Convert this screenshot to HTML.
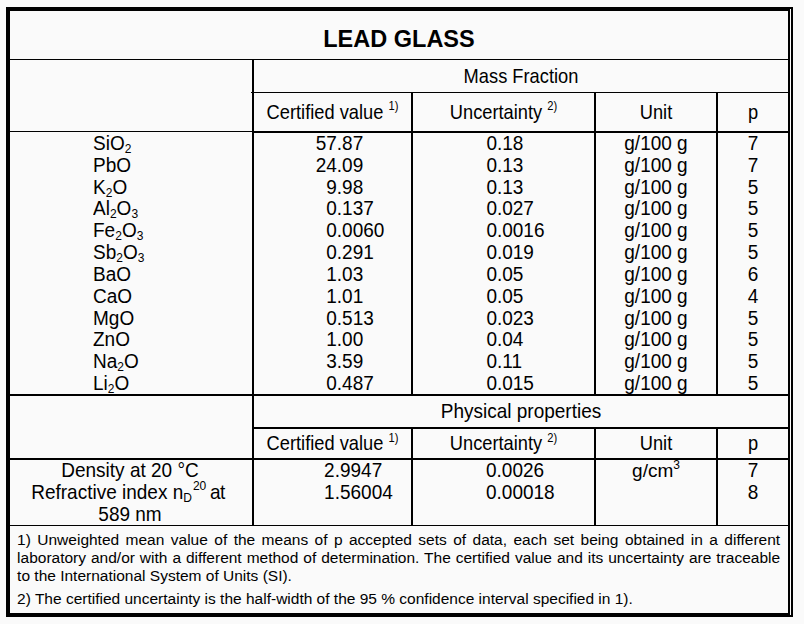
<!DOCTYPE html>
<html><head><meta charset="utf-8"><style>
html,body{margin:0;padding:0;}
body{width:804px;height:624px;background:#fafafa;position:relative;overflow:hidden;font-family:"Liberation Sans",sans-serif;color:#000;}
.l{position:absolute;background:#000;}
.t{position:absolute;white-space:nowrap;font-size:19px;line-height:22px;}
.c{text-align:center;}
sub,sup{font-size:12px;line-height:0;}
sub{vertical-align:-3px;}
sup{vertical-align:8.8px;}
.h sup{font-size:11.6px;}
.g sup{vertical-align:8.1px;}
.h{transform:scale(0.962,1.025);transform-origin:50% 79%;}
.i{display:inline-block;text-align:right;width:100px;}
.n>div{transform:scaleY(1.045);transform-origin:50% 79%;}
#c0>div{transform:scaleY(1.02);}
.rows div{height:21.82px;line-height:21.82px;}
.fn{position:absolute;left:17.1px;width:763px;font-size:15.5px;line-height:18px;text-align:justify;}
</style></head><body>
<!-- outer border -->
<div class="l" style="left:6px;top:7px;width:787px;height:4px"></div>
<div class="l" style="left:6px;top:613px;width:787px;height:4px"></div>
<div class="l" style="left:6px;top:7px;width:4px;height:610px"></div>
<div class="l" style="left:788px;top:7px;width:2px;height:610px"></div>
<div class="l" style="left:791px;top:7px;width:2px;height:610px"></div>
<div class="l" style="left:790px;top:9px;width:1px;height:606px;background:#fdfdfd"></div>
<!-- horizontal -->
<div class="l" style="left:10px;top:59px;width:778px;height:1px"></div>
<div class="l" style="left:251px;top:92px;width:537px;height:1px"></div>
<div class="l" style="left:10px;top:131px;width:778px;height:1px"></div>
<div class="l" style="left:252px;top:131px;width:536px;height:2px"></div>
<div class="l" style="left:10px;top:394px;width:778px;height:2px"></div>
<div class="l" style="left:252px;top:427px;width:536px;height:2px"></div>
<div class="l" style="left:10px;top:458px;width:778px;height:2px"></div>
<div class="l" style="left:10px;top:525px;width:778px;height:1px"></div>
<!-- vertical -->
<div class="l" style="left:252px;top:59px;width:2px;height:467px"></div>
<div class="l" style="left:411px;top:92px;width:2px;height:303px"></div>
<div class="l" style="left:594px;top:92px;width:2px;height:303px"></div>
<div class="l" style="left:716px;top:92px;width:2px;height:303px"></div>
<div class="l" style="left:411px;top:427px;width:2px;height:99px"></div>
<div class="l" style="left:594px;top:427px;width:2px;height:99px"></div>
<div class="l" style="left:716px;top:427px;width:2px;height:99px"></div>

<div class="t c" id="title" style="left:10px;width:778px;top:25px;font-size:23.5px;font-weight:bold;line-height:28px;transform:scaleY(1.045);transform-origin:50% 77.7%;">LEAD GLASS</div>
<div class="t c h" id="mf" style="left:254px;width:534px;top:66px;">Mass Fraction</div>
<div class="t c h" id="h1" style="left:254px;width:157px;top:102px;">Certified value <sup>1)</sup></div>
<div class="t c h" id="h2" style="left:413px;width:181px;top:102px;">Uncertainty <sup>2)</sup></div>
<div class="t c h" id="h3" style="left:596px;width:120px;top:102px;">Unit</div>
<div class="t c h" id="h4" style="left:718px;width:70px;top:102px;">p</div>

<div class="t rows n" id="c0" style="left:93px;top:133px;">
<div>SiO<sub>2</sub></div><div>PbO</div><div>K<sub>2</sub>O</div><div>Al<sub>2</sub>O<sub>3</sub></div><div>Fe<sub>2</sub>O<sub>3</sub></div><div>Sb<sub>2</sub>O<sub>3</sub></div><div>BaO</div><div>CaO</div><div>MgO</div><div>ZnO</div><div>Na<sub>2</sub>O</div><div>Li<sub>2</sub>O</div>
</div>
<div class="t rows n" id="c1" style="left:236.8px;top:133px;">
<div><span class="i">57</span>.87</div><div><span class="i">24</span>.09</div><div><span class="i">9</span>.98</div><div><span class="i">0</span>.137</div><div><span class="i">0</span>.0060</div><div><span class="i">0</span>.291</div><div><span class="i">1</span>.03</div><div><span class="i">1</span>.01</div><div><span class="i">0</span>.513</div><div><span class="i">1</span>.00</div><div><span class="i">3</span>.59</div><div><span class="i">0</span>.487</div>
</div>
<div class="t rows n" id="c2" style="left:486.4px;top:133px;">
<div>0.18</div><div>0.13</div><div>0.13</div><div>0.027</div><div>0.0016</div><div>0.019</div><div>0.05</div><div>0.05</div><div>0.023</div><div>0.04</div><div>0.11</div><div>0.015</div>
</div>
<div class="t c rows n" id="c3" style="left:596px;width:120px;top:133px;">
<div>g/100 g</div><div>g/100 g</div><div>g/100 g</div><div>g/100 g</div><div>g/100 g</div><div>g/100 g</div><div>g/100 g</div><div>g/100 g</div><div>g/100 g</div><div>g/100 g</div><div>g/100 g</div><div>g/100 g</div>
</div>
<div class="t c rows n" id="c4" style="left:718px;width:70px;top:133px;">
<div>7</div><div>7</div><div>5</div><div>5</div><div>5</div><div>5</div><div>6</div><div>4</div><div>5</div><div>5</div><div>5</div><div>5</div>
</div>

<div class="t c" id="pp" style="left:254px;width:534px;top:401px;transform:scaleY(1.04);transform-origin:50% 79%;">Physical properties</div>
<div class="t c h g" id="g1" style="left:254px;width:157px;top:433px;">Certified value <sup>1)</sup></div>
<div class="t c h g" id="g2" style="left:413px;width:181px;top:433px;">Uncertainty <sup>2)</sup></div>
<div class="t c h" id="g3" style="left:596px;width:120px;top:433px;">Unit</div>
<div class="t c h" id="g4" style="left:718px;width:70px;top:433px;">p</div>

<div class="t c rows n" id="d0" style="left:9px;width:242px;top:460px;">
<div>Density at 20 °C</div><div style="position:relative;left:-2px">Refractive index n<sub>D</sub><sup style="margin-left:1px;margin-right:-1.6px">20</sup> <span style="letter-spacing:-0.5px">at</span></div><div>589 nm</div>
</div>
<div class="t rows n" id="d1" style="left:234.7px;top:460px;"><div><span class="i">2</span>.9947</div><div><span class="i">1</span>.56004</div></div>
<div class="t rows n" id="d2" style="left:486px;top:460px;"><div>0.0026</div><div>0.00018</div></div>
<div class="t c rows" id="d3" style="left:596px;width:120px;top:460px;"><div>g/cm<sup style="vertical-align:8px">3</sup></div></div>
<div class="t c rows n" id="d4" style="left:718px;width:70px;top:460px;"><div>7</div><div>8</div></div>

<div class="fn" id="f1" style="top:530.6px;">1) Unweighted mean value of the means of p accepted sets of data, each set being obtained in a different laboratory and/or with a different method of determination. The certified value and its uncertainty are traceable to the International System of Units (SI).</div>
<div class="fn" id="f2" style="top:589.6px;">2) The certified uncertainty is the half-width of the 95 % confidence interval specified in 1).</div>
</body></html>
